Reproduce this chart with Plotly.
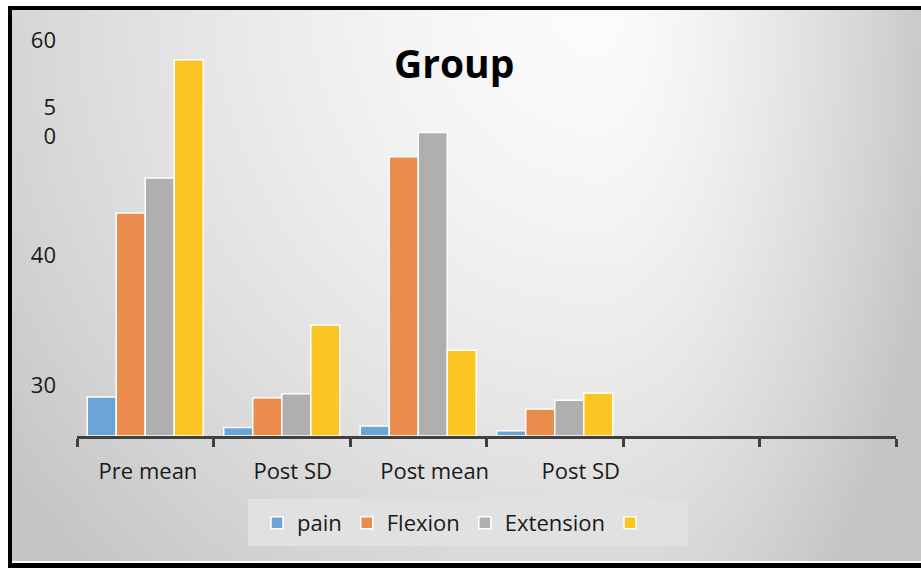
import base64
import struct
import zlib

import numpy as np
import plotly.graph_objects as go

# ---- data -------------------------------------------------------------
categories = ["Pre mean", "Post SD", "Post mean", "Post SD", "", ""]
pain = [5.9, 1.3, 1.5, 0.8]
flexion = [33.8, 5.8, 42.3, 4.1]
extension = [39.1, 6.4, 46.0, 5.4]
fourth = [57.0, 16.8, 13.0, 6.5]

series_names = ["pain", "Flexion", "Extension", ""]
series_colors = ["#6CA4D6", "#EA8C4E", "#AFAFAF", "#FBC524"]

y_tick_labels = ["60", "5<br>0", "40", "30"]
y_tick_positions = [60.0, 47.6, 27.35, 7.75]

# ---- layout geometry (pixels) ----------------------------------------
W, H = 921, 568
ML, MR, MT, MB = 77, 25, 40, 132
PW, PH = W - ML - MR, H - MT - MB
Y_MAX = 60

# label centres sit slightly right of the category centres
label_shift = [0.02, 0.08, 0.12, 0.19]


def px_x(px):
    return (px - ML) / PW


def px_y(py):
    return (MT + PH - py) / PH


# ---- soft grey backdrop, rendered as a small PNG ----------------------
def gradient_png(w, h):
    xs = np.linspace(12, W, w)
    ys = np.linspace(10, 561, h)
    X, Y = np.meshgrid(xs, ys)
    cx, cy = 600.0, 0.0
    rx = np.where(X < cx, 780.0, 360.0)
    d = np.sqrt(((X - cx) / rx) ** 2 + ((Y - cy) / 820.0) ** 2)
    v = 252 - 58 * d ** 1.5
    v = np.clip(v, 197, 252).astype(np.uint8)
    raw = b"".join(b"\x00" + row.tobytes() for row in v)

    def chunk(tag, data):
        c = struct.pack(">I", len(data)) + tag + data
        return c + struct.pack(">I", zlib.crc32(tag + data) & 0xFFFFFFFF)

    png = b"\x89PNG\r\n\x1a\n"
    png += chunk(b"IHDR", struct.pack(">IIBBBBB", w, h, 8, 0, 0, 0, 0))
    png += chunk(b"IDAT", zlib.compress(raw, 9))
    png += chunk(b"IEND", b"")
    return "data:image/png;base64," + base64.b64encode(png).decode()


fig = go.Figure()
for name, vals, color in zip(series_names, [pain, flexion, extension, fourth], series_colors):
    fig.add_trace(go.Bar(
        x=list(range(len(vals))),
        y=vals,
        name=name,
        marker=dict(color=color, line=dict(color="white", width=1.5)),
    ))

font = "Open Sans, Segoe UI, Calibri, sans-serif"

fig.update_layout(
    width=W, height=H,
    margin=dict(l=ML, r=MR, t=MT, b=MB, pad=0),
    paper_bgcolor="white",
    plot_bgcolor="rgba(0,0,0,0)",
    barmode="group",
    bargap=0.15,
    bargroupgap=0,
    font=dict(family=font, size=22, color="#1a1a1a"),
    showlegend=True,
    legend=dict(
        orientation="h",
        x=px_x(257), y=px_y(502), xanchor="left", yanchor="top",
        bgcolor="rgba(0,0,0,0)",
        font=dict(family=font, size=22, color="#1a1a1a"),
        traceorder="normal",
    ),
    xaxis=dict(
        range=[-0.5, len(categories) - 0.5],
        tickmode="array",
        tickvals=[i + s for i, s in enumerate(label_shift)],
        ticktext=categories[:4],
        ticks="",
        showgrid=False,
        zeroline=False,
        showline=True,
        linecolor="#404040",
        linewidth=3,
        ticklabelstandoff=14,
        minor=dict(
            tickmode="array",
            tickvals=[i - 0.5 for i in range(len(categories) + 1)],
            ticks="outside",
            ticklen=8,
            tickwidth=3,
            tickcolor="#404040",
            showgrid=False,
        ),
        fixedrange=True,
    ),
    yaxis=dict(
        range=[0, Y_MAX],
        tickmode="array",
        tickvals=y_tick_positions,
        ticktext=y_tick_labels,
        ticks="",
        showgrid=False,
        zeroline=False,
        showline=False,
        ticklabelstandoff=20,
        fixedrange=True,
    ),
    images=[dict(
        source=gradient_png(230, 138),
        xref="paper", yref="paper",
        x=px_x(12), y=px_y(10),
        sizex=(W - 12) / PW, sizey=(561 - 10) / PH,
        xanchor="left", yanchor="top",
        sizing="stretch", layer="below",
    )],
    shapes=[
        # legend panel
        dict(type="rect", xref="paper", yref="paper", layer="below",
             x0=px_x(248), x1=px_x(688), y0=px_y(499), y1=px_y(546),
             fillcolor="#E1E1E1", line=dict(width=0)),
        # outer frame
        dict(type="rect", xref="paper", yref="paper",
             x0=px_x(8), x1=px_x(W + 5), y0=px_y(6), y1=px_y(10),
             fillcolor="black", line=dict(width=0)),
        dict(type="rect", xref="paper", yref="paper",
             x0=px_x(8), x1=px_x(12), y0=px_y(6), y1=px_y(H + 5),
             fillcolor="black", line=dict(width=0)),
        dict(type="rect", xref="paper", yref="paper",
             x0=px_x(8), x1=px_x(W + 5), y0=px_y(563), y1=px_y(H + 5),
             fillcolor="black", line=dict(width=0)),
    ],
    annotations=[dict(
        text="<b>Group</b>",
        xref="paper", yref="paper",
        x=px_x(454), y=px_y(63),
        xanchor="center", yanchor="middle",
        showarrow=False,
        font=dict(family=font, size=39, color="black"),
    )],
)

fig.write_html("out.html")
